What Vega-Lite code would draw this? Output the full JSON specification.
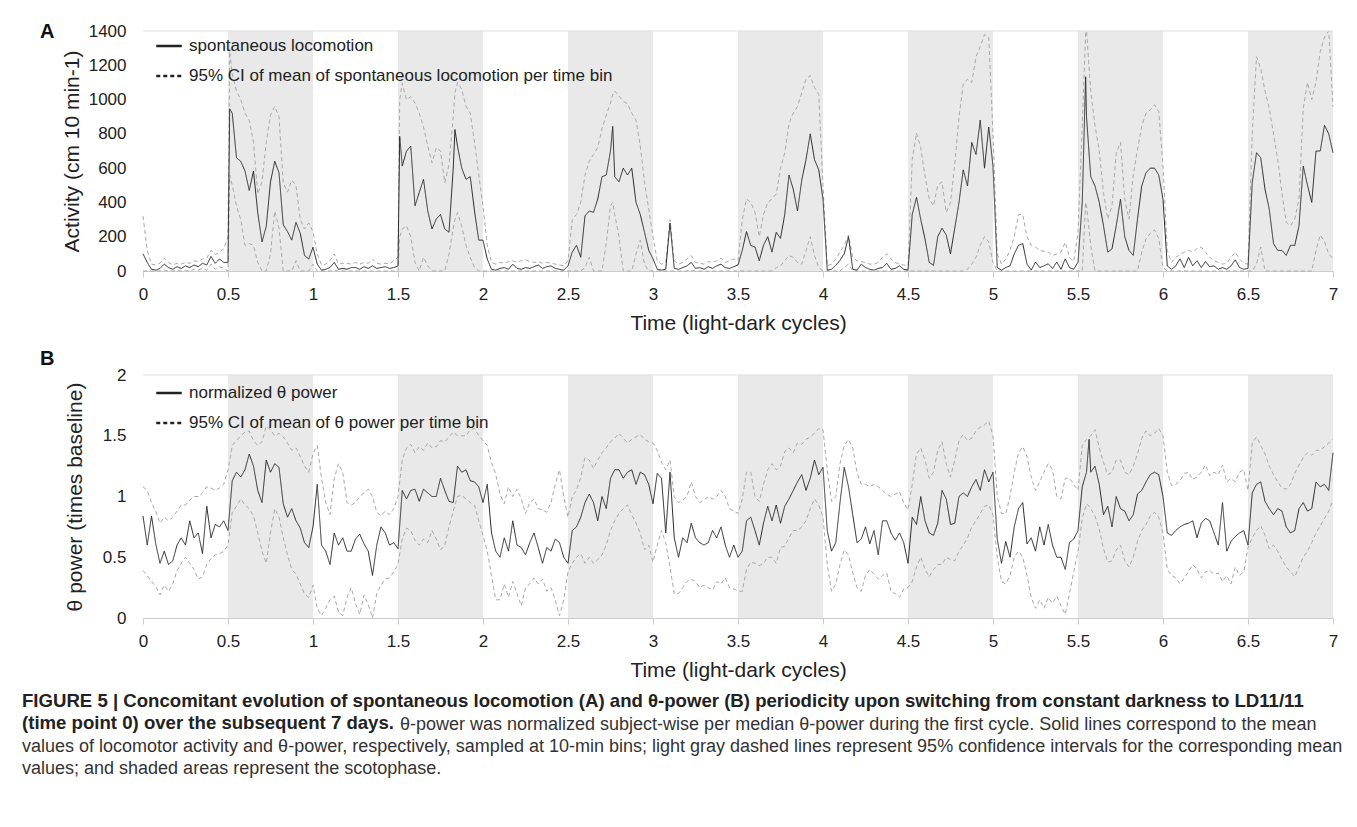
{
  "$schema": "https://vega.github.io/schema/vega-lite/v6.json",
  "background": "white",
  "padding": {"left": 22, "top": 22, "right": 10, "bottom": 5},
  "config": {
    "font": "Liberation Sans",
    "view": {"stroke": null},
    "axis": {"labelFont": "Liberation Sans", "labelFontSize": 17, "labelColor": "#222", "titleFont": "Liberation Sans", "titleFontSize": 21, "titleFontWeight": "normal", "titleColor": "#222", "grid": false, "labelOverlap": false},
    "legend": {"orient": "none", "legendX": 12, "padding": 0, "labelFont": "Liberation Sans", "labelFontSize": 17, "labelColor": "#222", "labelLimit": 0, "symbolType": "stroke", "symbolSize": 650, "symbolStrokeWidth": 2.5, "symbolStrokeColor": "#222", "rowPadding": 8, "labelOffset": 6, "title": null}
  },
  "datasets": {
    "dark": [{"s": 0.5, "e": 1}, {"s": 1.5, "e": 2}, {"s": 2.5, "e": 3}, {"s": 3.5, "e": 4}, {"s": 4.5, "e": 5}, {"s": 5.5, "e": 6}, {"s": 6.5, "e": 7}],
    "act": [
      {"t":0,"m":100,"u":320,"l":0},{"t":0.025,"m":50,"u":120,"l":0},{"t":0.05,"m":10,"u":40,"l":0},{"t":0.075,"m":5,"u":35,"l":0},{"t":0.1,"m":15,"u":45,"l":0},{"t":0.125,"m":40,"u":75,"l":5},{"t":0.15,"m":20,"u":50,"l":0},{"t":0.175,"m":10,"u":35,"l":0},{"t":0.2,"m":25,"u":45,"l":5},{"t":0.225,"m":15,"u":40,"l":0},{"t":0.25,"m":30,"u":50,"l":5},{"t":0.275,"m":20,"u":45,"l":0},{"t":0.3,"m":35,"u":60,"l":10},{"t":0.325,"m":25,"u":55,"l":5},{"t":0.35,"m":45,"u":70,"l":15},{"t":0.375,"m":35,"u":75,"l":5},{"t":0.4,"m":85,"u":120,"l":40},{"t":0.425,"m":45,"u":95,"l":10},{"t":0.45,"m":70,"u":110,"l":25},{"t":0.475,"m":50,"u":130,"l":15},{"t":0.5,"m":50,"u":200,"l":0},
      {"t":0.51,"m":946,"u":1280,"l":560},{"t":0.525,"m":920,"u":1150,"l":500},{"t":0.55,"m":660,"u":1050,"l":380},{"t":0.575,"m":640,"u":1000,"l":300},{"t":0.6,"m":583,"u":920,"l":150},{"t":0.625,"m":470,"u":880,"l":160},{"t":0.65,"m":583,"u":750,"l":150},{"t":0.675,"m":340,"u":450,"l":50},{"t":0.7,"m":170,"u":520,"l":0},{"t":0.725,"m":260,"u":750,"l":0},{"t":0.75,"m":520,"u":910,"l":100},{"t":0.775,"m":640,"u":960,"l":350},{"t":0.8,"m":573,"u":900,"l":250},{"t":0.825,"m":270,"u":515,"l":0},{"t":0.85,"m":230,"u":460,"l":0},{"t":0.875,"m":180,"u":530,"l":0},{"t":0.9,"m":284,"u":500,"l":60},{"t":0.925,"m":220,"u":300,"l":0},{"t":0.95,"m":91,"u":245,"l":0},{"t":0.975,"m":70,"u":280,"l":0},{"t":1,"m":139,"u":230,"l":40},
      {"t":1.025,"m":40,"u":100,"l":0},{"t":1.05,"m":5,"u":35,"l":0},{"t":1.075,"m":10,"u":40,"l":0},{"t":1.1,"m":20,"u":60,"l":0},{"t":1.125,"m":50,"u":100,"l":5},{"t":1.15,"m":10,"u":40,"l":0},{"t":1.175,"m":15,"u":45,"l":0},{"t":1.2,"m":10,"u":45,"l":0},{"t":1.225,"m":20,"u":40,"l":0},{"t":1.25,"m":20,"u":50,"l":0},{"t":1.275,"m":10,"u":40,"l":0},{"t":1.3,"m":25,"u":50,"l":0},{"t":1.325,"m":15,"u":45,"l":0},{"t":1.35,"m":30,"u":70,"l":0},{"t":1.375,"m":15,"u":45,"l":0},{"t":1.4,"m":20,"u":40,"l":0},{"t":1.425,"m":25,"u":45,"l":0},{"t":1.45,"m":15,"u":40,"l":0},{"t":1.475,"m":20,"u":60,"l":0},{"t":1.5,"m":30,"u":80,"l":0},
      {"t":1.51,"m":786,"u":1000,"l":200},{"t":1.525,"m":612,"u":1095,"l":245},{"t":1.55,"m":700,"u":1000,"l":264},{"t":1.575,"m":728,"u":1017,"l":200},{"t":1.6,"m":380,"u":980,"l":50},{"t":1.625,"m":458,"u":921,"l":0},{"t":1.65,"m":535,"u":840,"l":80},{"t":1.675,"m":350,"u":728,"l":30},{"t":1.7,"m":245,"u":631,"l":0},{"t":1.725,"m":303,"u":720,"l":0},{"t":1.75,"m":330,"u":700,"l":0},{"t":1.775,"m":245,"u":515,"l":0},{"t":1.8,"m":226,"u":620,"l":100},{"t":1.825,"m":600,"u":900,"l":250},{"t":1.835,"m":825,"u":1040,"l":300},{"t":1.85,"m":728,"u":1100,"l":340},{"t":1.875,"m":600,"u":1060,"l":260},{"t":1.9,"m":535,"u":960,"l":150},{"t":1.925,"m":550,"u":920,"l":80},{"t":1.95,"m":350,"u":750,"l":20},{"t":1.975,"m":180,"u":560,"l":0},{"t":2,"m":180,"u":380,"l":0},
      {"t":2.025,"m":70,"u":150,"l":0},{"t":2.05,"m":10,"u":50,"l":0},{"t":2.075,"m":5,"u":40,"l":0},{"t":2.1,"m":15,"u":50,"l":0},{"t":2.125,"m":20,"u":45,"l":0},{"t":2.15,"m":10,"u":55,"l":0},{"t":2.175,"m":40,"u":60,"l":0},{"t":2.2,"m":15,"u":50,"l":0},{"t":2.225,"m":10,"u":60,"l":0},{"t":2.25,"m":20,"u":65,"l":0},{"t":2.275,"m":15,"u":55,"l":0},{"t":2.3,"m":25,"u":50,"l":0},{"t":2.325,"m":35,"u":55,"l":0},{"t":2.35,"m":15,"u":45,"l":0},{"t":2.375,"m":25,"u":50,"l":0},{"t":2.4,"m":30,"u":45,"l":0},{"t":2.425,"m":15,"u":40,"l":0},{"t":2.45,"m":10,"u":35,"l":0},{"t":2.475,"m":5,"u":30,"l":0},{"t":2.5,"m":30,"u":60,"l":0},
      {"t":2.525,"m":110,"u":300,"l":0},{"t":2.55,"m":150,"u":330,"l":0},{"t":2.575,"m":80,"u":400,"l":0},{"t":2.6,"m":322,"u":560,"l":20},{"t":2.625,"m":350,"u":640,"l":80},{"t":2.65,"m":342,"u":680,"l":0},{"t":2.675,"m":420,"u":720,"l":0},{"t":2.7,"m":550,"u":830,"l":0},{"t":2.725,"m":560,"u":910,"l":160},{"t":2.75,"m":700,"u":980,"l":380},{"t":2.763,"m":844,"u":1030,"l":400},{"t":2.775,"m":550,"u":1050,"l":330},{"t":2.8,"m":520,"u":1020,"l":200},{"t":2.825,"m":600,"u":990,"l":0},{"t":2.85,"m":560,"u":975,"l":0},{"t":2.875,"m":600,"u":921,"l":0},{"t":2.9,"m":400,"u":880,"l":100},{"t":2.925,"m":330,"u":730,"l":180},{"t":2.95,"m":226,"u":520,"l":40},{"t":2.975,"m":120,"u":360,"l":0},{"t":3,"m":71,"u":200,"l":0},
      {"t":3.025,"m":10,"u":60,"l":0},{"t":3.05,"m":5,"u":40,"l":0},{"t":3.075,"m":10,"u":50,"l":0},{"t":3.1,"m":280,"u":300,"l":0},{"t":3.125,"m":15,"u":60,"l":0},{"t":3.15,"m":10,"u":40,"l":0},{"t":3.175,"m":20,"u":50,"l":0},{"t":3.2,"m":30,"u":70,"l":0},{"t":3.225,"m":50,"u":90,"l":5},{"t":3.25,"m":15,"u":50,"l":0},{"t":3.275,"m":20,"u":45,"l":0},{"t":3.3,"m":10,"u":40,"l":0},{"t":3.325,"m":25,"u":55,"l":0},{"t":3.35,"m":15,"u":50,"l":0},{"t":3.375,"m":30,"u":60,"l":0},{"t":3.4,"m":40,"u":75,"l":0},{"t":3.425,"m":20,"u":50,"l":0},{"t":3.45,"m":15,"u":60,"l":0},{"t":3.475,"m":25,"u":70,"l":0},{"t":3.5,"m":35,"u":60,"l":0},
      {"t":3.525,"m":120,"u":300,"l":0},{"t":3.55,"m":230,"u":420,"l":0},{"t":3.575,"m":149,"u":400,"l":0},{"t":3.6,"m":140,"u":342,"l":0},{"t":3.625,"m":60,"u":200,"l":0},{"t":3.65,"m":150,"u":330,"l":0},{"t":3.675,"m":200,"u":400,"l":0},{"t":3.7,"m":110,"u":420,"l":0},{"t":3.725,"m":226,"u":450,"l":20},{"t":3.75,"m":190,"u":600,"l":30},{"t":3.775,"m":330,"u":690,"l":60},{"t":3.8,"m":560,"u":860,"l":90},{"t":3.825,"m":477,"u":921,"l":80},{"t":3.85,"m":350,"u":960,"l":50},{"t":3.875,"m":530,"u":1040,"l":40},{"t":3.9,"m":650,"u":1120,"l":120},{"t":3.925,"m":800,"u":1140,"l":200},{"t":3.95,"m":650,"u":1070,"l":90},{"t":3.975,"m":590,"u":1030,"l":20},{"t":4,"m":419,"u":500,"l":0},
      {"t":4.025,"m":5,"u":30,"l":0},{"t":4.05,"m":10,"u":40,"l":0},{"t":4.075,"m":33,"u":70,"l":0},{"t":4.1,"m":62,"u":110,"l":0},{"t":4.125,"m":100,"u":150,"l":20},{"t":4.15,"m":200,"u":210,"l":40},{"t":4.175,"m":10,"u":80,"l":0},{"t":4.2,"m":5,"u":60,"l":0},{"t":4.225,"m":40,"u":55,"l":0},{"t":4.25,"m":20,"u":50,"l":0},{"t":4.275,"m":10,"u":40,"l":0},{"t":4.3,"m":5,"u":40,"l":0},{"t":4.325,"m":15,"u":50,"l":0},{"t":4.35,"m":20,"u":80,"l":0},{"t":4.375,"m":45,"u":100,"l":0},{"t":4.4,"m":10,"u":70,"l":0},{"t":4.425,"m":15,"u":50,"l":0},{"t":4.45,"m":30,"u":40,"l":0},{"t":4.475,"m":10,"u":35,"l":0},{"t":4.5,"m":5,"u":30,"l":0},
      {"t":4.525,"m":330,"u":650,"l":0},{"t":4.55,"m":430,"u":805,"l":0},{"t":4.575,"m":300,"u":720,"l":0},{"t":4.6,"m":187,"u":554,"l":0},{"t":4.625,"m":50,"u":420,"l":0},{"t":4.65,"m":33,"u":380,"l":0},{"t":4.675,"m":200,"u":500,"l":0},{"t":4.7,"m":250,"u":520,"l":0},{"t":4.725,"m":210,"u":342,"l":0},{"t":4.75,"m":100,"u":400,"l":0},{"t":4.775,"m":250,"u":620,"l":0},{"t":4.8,"m":400,"u":900,"l":0},{"t":4.825,"m":590,"u":1090,"l":0},{"t":4.85,"m":496,"u":1120,"l":10},{"t":4.875,"m":750,"u":1100,"l":40},{"t":4.9,"m":680,"u":1250,"l":80},{"t":4.925,"m":880,"u":1310,"l":150},{"t":4.95,"m":600,"u":1380,"l":200},{"t":4.975,"m":840,"u":1360,"l":170},{"t":5,"m":612,"u":800,"l":50},
      {"t":5.025,"m":20,"u":100,"l":0},{"t":5.05,"m":5,"u":40,"l":0},{"t":5.075,"m":20,"u":70,"l":0},{"t":5.1,"m":30,"u":120,"l":0},{"t":5.125,"m":100,"u":200,"l":0},{"t":5.15,"m":150,"u":330,"l":0},{"t":5.175,"m":160,"u":330,"l":0},{"t":5.2,"m":40,"u":200,"l":0},{"t":5.225,"m":5,"u":150,"l":0},{"t":5.25,"m":52,"u":139,"l":0},{"t":5.275,"m":20,"u":120,"l":0},{"t":5.3,"m":30,"u":115,"l":0},{"t":5.325,"m":42,"u":110,"l":0},{"t":5.35,"m":15,"u":90,"l":0},{"t":5.375,"m":52,"u":100,"l":0},{"t":5.4,"m":10,"u":110,"l":0},{"t":5.425,"m":71,"u":168,"l":0},{"t":5.45,"m":20,"u":80,"l":0},{"t":5.475,"m":10,"u":55,"l":0},{"t":5.5,"m":52,"u":226,"l":0},
      {"t":5.525,"m":400,"u":850,"l":0},{"t":5.545,"m":1133,"u":1390,"l":400},{"t":5.55,"m":900,"u":1400,"l":380},{"t":5.575,"m":550,"u":1050,"l":150},{"t":5.6,"m":496,"u":850,"l":0},{"t":5.625,"m":400,"u":700,"l":0},{"t":5.65,"m":264,"u":458,"l":0},{"t":5.675,"m":110,"u":303,"l":0},{"t":5.7,"m":129,"u":380,"l":0},{"t":5.725,"m":264,"u":690,"l":0},{"t":5.75,"m":419,"u":750,"l":0},{"t":5.775,"m":200,"u":419,"l":0},{"t":5.8,"m":120,"u":303,"l":0},{"t":5.825,"m":91,"u":560,"l":0},{"t":5.85,"m":303,"u":708,"l":0},{"t":5.875,"m":496,"u":844,"l":110},{"t":5.9,"m":573,"u":921,"l":187},{"t":5.925,"m":600,"u":940,"l":220},{"t":5.95,"m":600,"u":970,"l":240},{"t":5.975,"m":560,"u":930,"l":190},{"t":6,"m":419,"u":612,"l":20},
      {"t":6.025,"m":30,"u":120,"l":0},{"t":6.05,"m":10,"u":50,"l":0},{"t":6.075,"m":30,"u":80,"l":0},{"t":6.1,"m":71,"u":95,"l":0},{"t":6.125,"m":20,"u":110,"l":0},{"t":6.15,"m":80,"u":120,"l":0},{"t":6.175,"m":30,"u":110,"l":0},{"t":6.2,"m":60,"u":130,"l":0},{"t":6.225,"m":20,"u":140,"l":0},{"t":6.25,"m":55,"u":110,"l":0},{"t":6.275,"m":25,"u":80,"l":0},{"t":6.3,"m":30,"u":60,"l":0},{"t":6.325,"m":10,"u":50,"l":0},{"t":6.35,"m":20,"u":40,"l":0},{"t":6.375,"m":10,"u":45,"l":0},{"t":6.4,"m":30,"u":80,"l":0},{"t":6.425,"m":65,"u":110,"l":0},{"t":6.45,"m":20,"u":70,"l":0},{"t":6.475,"m":10,"u":45,"l":0},{"t":6.5,"m":15,"u":40,"l":0},
      {"t":6.525,"m":515,"u":800,"l":0},{"t":6.55,"m":690,"u":1250,"l":40},{"t":6.575,"m":660,"u":1180,"l":140},{"t":6.6,"m":477,"u":1050,"l":0},{"t":6.625,"m":361,"u":950,"l":0},{"t":6.65,"m":160,"u":800,"l":0},{"t":6.675,"m":120,"u":650,"l":0},{"t":6.7,"m":120,"u":450,"l":0},{"t":6.725,"m":91,"u":284,"l":0},{"t":6.75,"m":150,"u":264,"l":0},{"t":6.775,"m":149,"u":303,"l":0},{"t":6.8,"m":264,"u":419,"l":0},{"t":6.825,"m":612,"u":950,"l":0},{"t":6.85,"m":500,"u":1100,"l":0},{"t":6.875,"m":400,"u":1000,"l":0},{"t":6.9,"m":700,"u":1100,"l":120},{"t":6.925,"m":700,"u":1280,"l":210},{"t":6.95,"m":850,"u":1365,"l":170},{"t":6.975,"m":800,"u":1400,"l":100},{"t":7,"m":690,"u":960,"l":71}
    ],
    "theta": [
      {"t":0,"m":0.84,"u":1.08,"l":0.39},{"t":0.025,"m":0.6,"u":1.05,"l":0.35},{"t":0.05,"m":0.84,"u":0.95,"l":0.3},{"t":0.075,"m":0.61,"u":0.88,"l":0.26},{"t":0.1,"m":0.45,"u":0.78,"l":0.19},{"t":0.125,"m":0.55,"u":0.83,"l":0.27},{"t":0.15,"m":0.44,"u":0.8,"l":0.22},{"t":0.175,"m":0.47,"u":0.83,"l":0.28},{"t":0.2,"m":0.6,"u":0.88,"l":0.39},{"t":0.225,"m":0.66,"u":0.93,"l":0.45},{"t":0.25,"m":0.6,"u":0.93,"l":0.5},{"t":0.275,"m":0.8,"u":0.97,"l":0.45},{"t":0.3,"m":0.66,"u":1.0,"l":0.4},{"t":0.325,"m":0.7,"u":1.0,"l":0.32},{"t":0.35,"m":0.53,"u":1.03,"l":0.34},{"t":0.375,"m":0.92,"u":1.08,"l":0.44},{"t":0.4,"m":0.66,"u":1.07,"l":0.49},{"t":0.425,"m":0.77,"u":1.05,"l":0.52},{"t":0.45,"m":0.75,"u":1.07,"l":0.53},{"t":0.475,"m":0.8,"u":1.1,"l":0.55},{"t":0.5,"m":0.72,"u":1.22,"l":0.6},
      {"t":0.525,"m":1.13,"u":1.42,"l":0.87},{"t":0.55,"m":1.2,"u":1.46,"l":0.92},{"t":0.575,"m":1.16,"u":1.5,"l":0.98},{"t":0.6,"m":1.22,"u":1.53,"l":0.93},{"t":0.625,"m":1.35,"u":1.54,"l":0.9},{"t":0.65,"m":1.25,"u":1.46,"l":0.84},{"t":0.675,"m":1.05,"u":1.42,"l":0.7},{"t":0.7,"m":0.95,"u":1.45,"l":0.55},{"t":0.725,"m":1.3,"u":1.58,"l":0.45},{"t":0.75,"m":1.2,"u":1.55,"l":0.7},{"t":0.775,"m":1.27,"u":1.5,"l":0.9},{"t":0.8,"m":1.24,"u":1.52,"l":0.83},{"t":0.825,"m":0.94,"u":1.49,"l":0.66},{"t":0.85,"m":0.83,"u":1.44,"l":0.52},{"t":0.875,"m":0.9,"u":1.38,"l":0.4},{"t":0.9,"m":0.8,"u":1.4,"l":0.36},{"t":0.925,"m":0.74,"u":1.33,"l":0.28},{"t":0.95,"m":0.62,"u":1.25,"l":0.2},{"t":0.975,"m":0.58,"u":1.2,"l":0.17},{"t":1,"m":0.75,"u":1.35,"l":0.27},
      {"t":1.025,"m":1.1,"u":1.42,"l":0.08},{"t":1.05,"m":0.6,"u":1.15,"l":0.02},{"t":1.075,"m":0.55,"u":0.95,"l":0.08},{"t":1.1,"m":0.44,"u":0.85,"l":0.15},{"t":1.125,"m":0.7,"u":1.15,"l":0.18},{"t":1.15,"m":0.6,"u":1.27,"l":0.05},{"t":1.175,"m":0.66,"u":1.2,"l":0.02},{"t":1.2,"m":0.55,"u":0.95,"l":0.17},{"t":1.225,"m":0.55,"u":0.93,"l":0.25},{"t":1.25,"m":0.65,"u":0.95,"l":0.12},{"t":1.275,"m":0.69,"u":1.0,"l":0.03},{"t":1.3,"m":0.61,"u":1.03,"l":0.19},{"t":1.325,"m":0.55,"u":1.06,"l":0.11},{"t":1.35,"m":0.35,"u":1.0,"l":0.0},{"t":1.375,"m":0.6,"u":0.87,"l":0.2},{"t":1.4,"m":0.75,"u":0.84,"l":0.27},{"t":1.425,"m":0.7,"u":0.88,"l":0.32},{"t":1.45,"m":0.6,"u":0.85,"l":0.33},{"t":1.475,"m":0.62,"u":0.9,"l":0.38},{"t":1.5,"m":0.57,"u":1.0,"l":0.44},
      {"t":1.525,"m":1.05,"u":1.3,"l":0.65},{"t":1.55,"m":0.98,"u":1.4,"l":0.74},{"t":1.575,"m":1.05,"u":1.43,"l":0.72},{"t":1.6,"m":1.06,"u":1.36,"l":0.64},{"t":1.625,"m":0.96,"u":1.41,"l":0.6},{"t":1.65,"m":1.06,"u":1.38,"l":0.65},{"t":1.675,"m":1.03,"u":1.44,"l":0.62},{"t":1.7,"m":1.0,"u":1.4,"l":0.72},{"t":1.725,"m":1.0,"u":1.41,"l":0.65},{"t":1.75,"m":1.15,"u":1.46,"l":0.56},{"t":1.775,"m":1.05,"u":1.45,"l":0.6},{"t":1.8,"m":0.96,"u":1.49,"l":0.75},{"t":1.825,"m":0.95,"u":1.53,"l":0.88},{"t":1.85,"m":1.25,"u":1.5,"l":1.0},{"t":1.875,"m":1.2,"u":1.5,"l":1.01},{"t":1.9,"m":1.22,"u":1.5,"l":0.98},{"t":1.925,"m":1.13,"u":1.55,"l":0.95},{"t":1.95,"m":1.12,"u":1.56,"l":0.93},{"t":1.975,"m":1.08,"u":1.5,"l":0.8},{"t":2,"m":0.95,"u":1.46,"l":0.68},
      {"t":2.025,"m":1.1,"u":1.42,"l":0.55},{"t":2.05,"m":0.7,"u":1.28,"l":0.35},{"t":2.075,"m":0.55,"u":1.18,"l":0.15},{"t":2.1,"m":0.5,"u":1.02,"l":0.15},{"t":2.125,"m":0.66,"u":0.94,"l":0.28},{"t":2.15,"m":0.55,"u":1.08,"l":0.17},{"t":2.175,"m":0.8,"u":1.0,"l":0.3},{"t":2.2,"m":0.6,"u":1.06,"l":0.2},{"t":2.225,"m":0.58,"u":0.98,"l":0.1},{"t":2.25,"m":0.52,"u":0.86,"l":0.25},{"t":2.275,"m":0.62,"u":0.95,"l":0.28},{"t":2.3,"m":0.7,"u":0.98,"l":0.33},{"t":2.325,"m":0.58,"u":0.9,"l":0.28},{"t":2.35,"m":0.45,"u":0.89,"l":0.32},{"t":2.375,"m":0.58,"u":0.87,"l":0.22},{"t":2.4,"m":0.55,"u":0.95,"l":0.25},{"t":2.425,"m":0.65,"u":1.1,"l":0.15},{"t":2.45,"m":0.62,"u":1.22,"l":0.02},{"t":2.475,"m":0.5,"u":1.0,"l":0.15},{"t":2.5,"m":0.45,"u":0.83,"l":0.38},
      {"t":2.525,"m":0.72,"u":1.0,"l":0.45},{"t":2.55,"m":0.75,"u":1.05,"l":0.5},{"t":2.575,"m":0.83,"u":1.16,"l":0.53},{"t":2.6,"m":0.95,"u":1.32,"l":0.45},{"t":2.625,"m":1.02,"u":1.3,"l":0.5},{"t":2.65,"m":0.95,"u":1.23,"l":0.45},{"t":2.675,"m":0.8,"u":1.3,"l":0.48},{"t":2.7,"m":1.0,"u":1.36,"l":0.52},{"t":2.725,"m":0.9,"u":1.4,"l":0.6},{"t":2.75,"m":1.15,"u":1.45,"l":0.72},{"t":2.775,"m":1.22,"u":1.48,"l":0.8},{"t":2.8,"m":1.22,"u":1.52,"l":0.86},{"t":2.825,"m":1.15,"u":1.48,"l":0.9},{"t":2.85,"m":1.2,"u":1.44,"l":0.93},{"t":2.875,"m":1.22,"u":1.47,"l":0.85},{"t":2.9,"m":1.1,"u":1.49,"l":0.78},{"t":2.925,"m":1.2,"u":1.51,"l":0.7},{"t":2.95,"m":1.18,"u":1.47,"l":0.56},{"t":2.975,"m":1.1,"u":1.45,"l":0.6},{"t":3,"m":0.94,"u":1.44,"l":0.46},
      {"t":3.025,"m":1.19,"u":1.38,"l":0.6},{"t":3.05,"m":1.15,"u":1.28,"l":0.72},{"t":3.075,"m":0.7,"u":1.22,"l":0.62},{"t":3.1,"m":1.2,"u":1.3,"l":0.42},{"t":3.125,"m":0.66,"u":1.0,"l":0.2},{"t":3.15,"m":0.5,"u":0.95,"l":0.2},{"t":3.175,"m":0.66,"u":0.97,"l":0.25},{"t":3.2,"m":0.62,"u":1.0,"l":0.3},{"t":3.225,"m":0.78,"u":1.12,"l":0.32},{"t":3.25,"m":0.66,"u":1.0,"l":0.3},{"t":3.275,"m":0.62,"u":0.95,"l":0.25},{"t":3.3,"m":0.6,"u":0.97,"l":0.27},{"t":3.325,"m":0.62,"u":1.0,"l":0.25},{"t":3.35,"m":0.72,"u":0.98,"l":0.23},{"t":3.375,"m":0.66,"u":1.0,"l":0.3},{"t":3.4,"m":0.75,"u":1.05,"l":0.28},{"t":3.425,"m":0.6,"u":1.0,"l":0.33},{"t":3.45,"m":0.5,"u":0.9,"l":0.25},{"t":3.475,"m":0.6,"u":0.88,"l":0.24},{"t":3.5,"m":0.5,"u":0.86,"l":0.22},
      {"t":3.525,"m":0.55,"u":0.98,"l":0.22},{"t":3.55,"m":0.8,"u":1.2,"l":0.4},{"t":3.575,"m":0.83,"u":1.2,"l":0.46},{"t":3.6,"m":0.72,"u":1.0,"l":0.45},{"t":3.625,"m":0.6,"u":0.96,"l":0.43},{"t":3.65,"m":0.78,"u":1.1,"l":0.45},{"t":3.675,"m":0.92,"u":1.22,"l":0.5},{"t":3.7,"m":0.8,"u":1.27,"l":0.5},{"t":3.725,"m":0.93,"u":1.22,"l":0.45},{"t":3.75,"m":0.78,"u":1.25,"l":0.58},{"t":3.775,"m":0.92,"u":1.37,"l":0.59},{"t":3.8,"m":0.98,"u":1.4,"l":0.66},{"t":3.825,"m":1.05,"u":1.36,"l":0.72},{"t":3.85,"m":1.12,"u":1.44,"l":0.72},{"t":3.875,"m":1.18,"u":1.43,"l":0.75},{"t":3.9,"m":1.05,"u":1.47,"l":0.8},{"t":3.925,"m":1.15,"u":1.49,"l":0.9},{"t":3.95,"m":1.3,"u":1.52,"l":0.98},{"t":3.975,"m":1.18,"u":1.56,"l":0.93},{"t":4,"m":1.24,"u":1.55,"l":0.83},
      {"t":4.025,"m":0.72,"u":1.22,"l":0.44},{"t":4.05,"m":0.55,"u":0.96,"l":0.22},{"t":4.075,"m":0.62,"u":1.0,"l":0.28},{"t":4.1,"m":0.95,"u":1.27,"l":0.44},{"t":4.125,"m":1.24,"u":1.42,"l":0.56},{"t":4.15,"m":1.08,"u":1.47,"l":0.52},{"t":4.175,"m":0.85,"u":1.4,"l":0.37},{"t":4.2,"m":0.62,"u":1.2,"l":0.25},{"t":4.225,"m":0.65,"u":1.1,"l":0.22},{"t":4.25,"m":0.75,"u":1.1,"l":0.35},{"t":4.275,"m":0.61,"u":1.08,"l":0.4},{"t":4.3,"m":0.72,"u":1.1,"l":0.36},{"t":4.325,"m":0.52,"u":1.08,"l":0.32},{"t":4.35,"m":0.8,"u":1.05,"l":0.35},{"t":4.375,"m":0.8,"u":1.02,"l":0.37},{"t":4.4,"m":0.7,"u":1.0,"l":0.22},{"t":4.425,"m":0.64,"u":1.02,"l":0.2},{"t":4.45,"m":0.7,"u":1.04,"l":0.17},{"t":4.475,"m":0.62,"u":0.95,"l":0.24},{"t":4.5,"m":0.45,"u":0.89,"l":0.25},
      {"t":4.525,"m":0.83,"u":1.1,"l":0.3},{"t":4.55,"m":0.77,"u":1.35,"l":0.42},{"t":4.575,"m":1.0,"u":1.4,"l":0.5},{"t":4.6,"m":0.8,"u":1.3,"l":0.4},{"t":4.625,"m":0.7,"u":1.15,"l":0.34},{"t":4.65,"m":0.68,"u":1.2,"l":0.4},{"t":4.675,"m":0.78,"u":1.38,"l":0.44},{"t":4.7,"m":1.05,"u":1.45,"l":0.44},{"t":4.725,"m":0.98,"u":1.27,"l":0.5},{"t":4.75,"m":0.77,"u":1.16,"l":0.48},{"t":4.775,"m":0.78,"u":1.3,"l":0.47},{"t":4.8,"m":1.0,"u":1.46,"l":0.55},{"t":4.825,"m":1.03,"u":1.51,"l":0.6},{"t":4.85,"m":1.0,"u":1.46,"l":0.66},{"t":4.875,"m":1.08,"u":1.48,"l":0.75},{"t":4.9,"m":1.14,"u":1.54,"l":0.8},{"t":4.925,"m":1.05,"u":1.57,"l":0.86},{"t":4.95,"m":1.22,"u":1.59,"l":0.92},{"t":4.975,"m":1.12,"u":1.62,"l":0.93},{"t":5,"m":1.2,"u":1.5,"l":0.85},
      {"t":5.025,"m":0.65,"u":1.0,"l":0.5},{"t":5.05,"m":0.45,"u":0.86,"l":0.3},{"t":5.075,"m":0.63,"u":0.86,"l":0.28},{"t":5.1,"m":0.5,"u":1.0,"l":0.35},{"t":5.125,"m":0.75,"u":1.2,"l":0.5},{"t":5.15,"m":0.9,"u":1.36,"l":0.55},{"t":5.175,"m":0.95,"u":1.41,"l":0.5},{"t":5.2,"m":0.61,"u":1.33,"l":0.35},{"t":5.225,"m":0.66,"u":1.16,"l":0.17},{"t":5.25,"m":0.55,"u":1.05,"l":0.08},{"t":5.275,"m":0.75,"u":1.12,"l":0.15},{"t":5.3,"m":0.6,"u":1.2,"l":0.08},{"t":5.325,"m":0.77,"u":1.27,"l":0.17},{"t":5.35,"m":0.6,"u":1.22,"l":0.12},{"t":5.375,"m":0.5,"u":1.0,"l":0.18},{"t":5.4,"m":0.5,"u":0.98,"l":0.1},{"t":5.425,"m":0.4,"u":1.15,"l":0.03},{"t":5.45,"m":0.62,"u":1.15,"l":0.2},{"t":5.475,"m":0.65,"u":1.1,"l":0.38},{"t":5.5,"m":0.72,"u":1.05,"l":0.55},
      {"t":5.525,"m":1.08,"u":1.42,"l":0.82},{"t":5.55,"m":1.2,"u":1.47,"l":0.94},{"t":5.565,"m":1.47,"u":1.49,"l":0.92},{"t":5.575,"m":1.2,"u":1.5,"l":0.9},{"t":5.6,"m":1.25,"u":1.55,"l":0.84},{"t":5.625,"m":1.1,"u":1.4,"l":0.73},{"t":5.65,"m":0.85,"u":1.28,"l":0.57},{"t":5.675,"m":0.92,"u":1.18,"l":0.46},{"t":5.7,"m":0.75,"u":1.2,"l":0.47},{"t":5.725,"m":1.0,"u":1.3,"l":0.56},{"t":5.75,"m":0.9,"u":1.3,"l":0.6},{"t":5.775,"m":0.88,"u":1.2,"l":0.47},{"t":5.8,"m":0.8,"u":1.18,"l":0.42},{"t":5.825,"m":0.85,"u":1.25,"l":0.5},{"t":5.85,"m":1.02,"u":1.35,"l":0.63},{"t":5.875,"m":1.05,"u":1.48,"l":0.72},{"t":5.9,"m":1.12,"u":1.54,"l":0.77},{"t":5.925,"m":1.18,"u":1.5,"l":0.84},{"t":5.95,"m":1.2,"u":1.52,"l":0.87},{"t":5.975,"m":1.18,"u":1.56,"l":0.83},{"t":6,"m":1.0,"u":1.5,"l":0.7},
      {"t":6.025,"m":0.7,"u":1.2,"l":0.4},{"t":6.05,"m":0.68,"u":1.09,"l":0.35},{"t":6.075,"m":0.72,"u":1.1,"l":0.33},{"t":6.1,"m":0.75,"u":1.13,"l":0.28},{"t":6.125,"m":0.77,"u":1.19,"l":0.33},{"t":6.15,"m":0.78,"u":1.2,"l":0.38},{"t":6.175,"m":0.8,"u":1.14,"l":0.44},{"t":6.2,"m":0.66,"u":1.16,"l":0.4},{"t":6.225,"m":0.78,"u":1.2,"l":0.33},{"t":6.25,"m":0.82,"u":1.26,"l":0.38},{"t":6.275,"m":0.8,"u":1.17,"l":0.39},{"t":6.3,"m":0.7,"u":1.2,"l":0.36},{"t":6.325,"m":0.6,"u":1.18,"l":0.37},{"t":6.35,"m":0.95,"u":1.26,"l":0.3},{"t":6.375,"m":0.55,"u":1.12,"l":0.35},{"t":6.4,"m":0.63,"u":1.15,"l":0.28},{"t":6.425,"m":0.67,"u":1.12,"l":0.42},{"t":6.45,"m":0.7,"u":1.2,"l":0.35},{"t":6.475,"m":0.72,"u":1.22,"l":0.38},{"t":6.5,"m":0.6,"u":1.05,"l":0.58},
      {"t":6.525,"m":1.03,"u":1.44,"l":0.66},{"t":6.55,"m":1.1,"u":1.49,"l":0.72},{"t":6.575,"m":1.12,"u":1.42,"l":0.76},{"t":6.6,"m":0.96,"u":1.35,"l":0.68},{"t":6.625,"m":0.9,"u":1.25,"l":0.57},{"t":6.65,"m":0.85,"u":1.18,"l":0.6},{"t":6.675,"m":0.9,"u":1.12,"l":0.55},{"t":6.7,"m":0.88,"u":1.07,"l":0.48},{"t":6.725,"m":0.75,"u":1.06,"l":0.42},{"t":6.75,"m":0.7,"u":1.1,"l":0.38},{"t":6.775,"m":0.72,"u":1.19,"l":0.34},{"t":6.8,"m":0.9,"u":1.26,"l":0.42},{"t":6.825,"m":0.95,"u":1.32,"l":0.5},{"t":6.85,"m":0.88,"u":1.36,"l":0.55},{"t":6.875,"m":0.9,"u":1.34,"l":0.62},{"t":6.9,"m":1.12,"u":1.38,"l":0.7},{"t":6.925,"m":1.08,"u":1.38,"l":0.76},{"t":6.95,"m":1.1,"u":1.41,"l":0.82},{"t":6.975,"m":1.05,"u":1.44,"l":0.88},{"t":7,"m":1.36,"u":1.47,"l":0.97}
    ]
  },
  "title": {
    "text": ["FIGURE 5 | Concomitant evolution of spontaneous locomotion (A) and θ-power (B) periodicity upon switching from constant darkness to LD11/11", "(time point 0) over the subsequent 7 days."],
    "subtitle": ["\u200b\u2003\u2003\u2003\u2003\u2003\u2003\u2003\u2003\u2003\u2003\u2003\u2003\u2003\u2003\u2003\u2003\u2003\u2003\u2003\u2003\u2003θ-power was normalized subject-wise per median θ-power during the first cycle. Solid lines correspond to the mean", "values of locomotor activity and θ-power, respectively, sampled at 10-min bins; light gray dashed lines represent 95% confidence intervals for the corresponding mean", "values; and shaded areas represent the scotophase."],
    "orient": "bottom", "anchor": "start", "frame": "bounds", "dx": -18, "offset": 12,
    "font": "Liberation Sans", "fontSize": 18.6, "fontWeight": "bold", "color": "#222", "lineHeight": 22,
    "subtitleFont": "Liberation Sans", "subtitleFontSize": 18, "subtitleColor": "#333", "subtitleLineHeight": 22, "subtitlePadding": -17
  },
  "spacing": 16,
  "resolve": {"scale": {"strokeDash": "independent"}, "legend": {"strokeDash": "independent"}},
  "vconcat": [
    {
      "width": 1190, "height": 240,
      "title": {"text": "A", "anchor": "start", "frame": "group", "dx": -103, "offset": -20, "fontSize": 20, "fontWeight": "bold", "color": "#111", "font": "Liberation Sans"},
      "layer": [
        {"data": {"name": "dark"}, "mark": {"type": "rect", "color": "#e9e9e9"},
         "encoding": {
           "x": {"field": "s", "type": "quantitative", "scale": {"domain": [0, 7], "nice": false}, "axis": {"values": [0,0.5,1,1.5,2,2.5,3,3.5,4,4.5,5,5.5,6,6.5,7], "format": "~g", "title": "Time (light-dark cycles)", "domainColor": "#ccc", "tickColor": "#ccc", "tickSize": 6, "labelPadding": 9, "titlePadding": 10, "labelFlush": false}},
           "x2": {"field": "e"}}},
        {"data": {"name": "act"}, "transform": [{"fold": ["u", "l"], "as": ["bound", "value"]}],
         "mark": {"type": "line", "color": "#a8a8a8", "strokeWidth": 1},
         "encoding": {
           "x": {"field": "t", "type": "quantitative"},
           "y": {"field": "value", "type": "quantitative", "scale": {"domain": [0, 1400], "nice": false, "clamp": true}, "axis": {"values": [0,200,400,600,800,1000,1200,1400], "format": "d", "title": "Activity (cm 10 min-1)", "domain": false, "ticks": false, "labelPadding": 17, "titlePadding": 6}},
           "detail": {"field": "bound"},
           "strokeDash": {"datum": "95% CI of mean of spontaneous locomotion per time bin", "scale": {"domain": ["spontaneous locomotion", "95% CI of mean of spontaneous locomotion per time bin"], "range": [[1, 0], [4, 3]]}, "legend": {"symbolStrokeColor": "#222", "legendY": 1}}}},
        {"data": {"name": "act"},
         "mark": {"type": "line", "color": "#2a2a2a", "strokeWidth": 1},
         "encoding": {
           "x": {"field": "t", "type": "quantitative"},
           "y": {"field": "m", "type": "quantitative", "axis": {"values": [0,200,400,600,800,1000,1200,1400], "format": "d", "title": "Activity (cm 10 min-1)", "domain": false, "ticks": false, "labelPadding": 17, "titlePadding": 6}},
           "strokeDash": {"datum": "spontaneous locomotion"}}},
        {"data": {"values": [{}]}, "mark": {"type": "rule", "color": "#dddddd"},
         "encoding": {"y": {"datum": 1400, "type": "quantitative", "axis": {"values": [0,200,400,600,800,1000,1200,1400], "format": "d", "title": "Activity (cm 10 min-1)", "domain": false, "ticks": false, "labelPadding": 17, "titlePadding": 6}}}}
      ]
    },
    {
      "width": 1190, "height": 243,
      "title": {"text": "B", "anchor": "start", "frame": "group", "dx": -103, "offset": -3, "fontSize": 20, "fontWeight": "bold", "color": "#111", "font": "Liberation Sans"},
      "layer": [
        {"data": {"name": "dark"}, "mark": {"type": "rect", "color": "#e9e9e9"},
         "encoding": {
           "x": {"field": "s", "type": "quantitative", "scale": {"domain": [0, 7], "nice": false}, "axis": {"values": [0,0.5,1,1.5,2,2.5,3,3.5,4,4.5,5,5.5,6,6.5,7], "format": "~g", "title": "Time (light-dark cycles)", "domainColor": "#ccc", "tickColor": "#ccc", "tickSize": 6, "labelPadding": 9, "titlePadding": 10, "labelFlush": false}},
           "x2": {"field": "e"}}},
        {"data": {"name": "theta"}, "transform": [{"fold": ["u", "l"], "as": ["bound", "value"]}],
         "mark": {"type": "line", "color": "#a8a8a8", "strokeWidth": 1},
         "encoding": {
           "x": {"field": "t", "type": "quantitative"},
           "y": {"field": "value", "type": "quantitative", "scale": {"domain": [0, 2], "nice": false, "clamp": true}, "axis": {"values": [0,0.5,1,1.5,2], "format": "~g", "title": "θ power (times baseline)", "domain": false, "ticks": false, "labelPadding": 17, "titlePadding": 17}},
           "detail": {"field": "bound"},
           "strokeDash": {"datum": "95% CI of mean of θ power per time bin", "scale": {"domain": ["normalized θ power", "95% CI of mean of θ power per time bin"], "range": [[1, 0], [4, 3]]}, "legend": {"symbolStrokeColor": "#222", "legendY": 4}}}},
        {"data": {"name": "theta"},
         "mark": {"type": "line", "color": "#2a2a2a", "strokeWidth": 1},
         "encoding": {
           "x": {"field": "t", "type": "quantitative"},
           "y": {"field": "m", "type": "quantitative", "axis": {"values": [0,0.5,1,1.5,2], "format": "~g", "title": "θ power (times baseline)", "domain": false, "ticks": false, "labelPadding": 17, "titlePadding": 17}},
           "strokeDash": {"datum": "normalized θ power"}}},
        {"data": {"values": [{}]}, "mark": {"type": "rule", "color": "#dddddd"},
         "encoding": {"y": {"datum": 2, "type": "quantitative", "axis": {"values": [0,0.5,1,1.5,2], "format": "~g", "title": "θ power (times baseline)", "domain": false, "ticks": false, "labelPadding": 17, "titlePadding": 17}}}}
      ]
    }
  ]
}
